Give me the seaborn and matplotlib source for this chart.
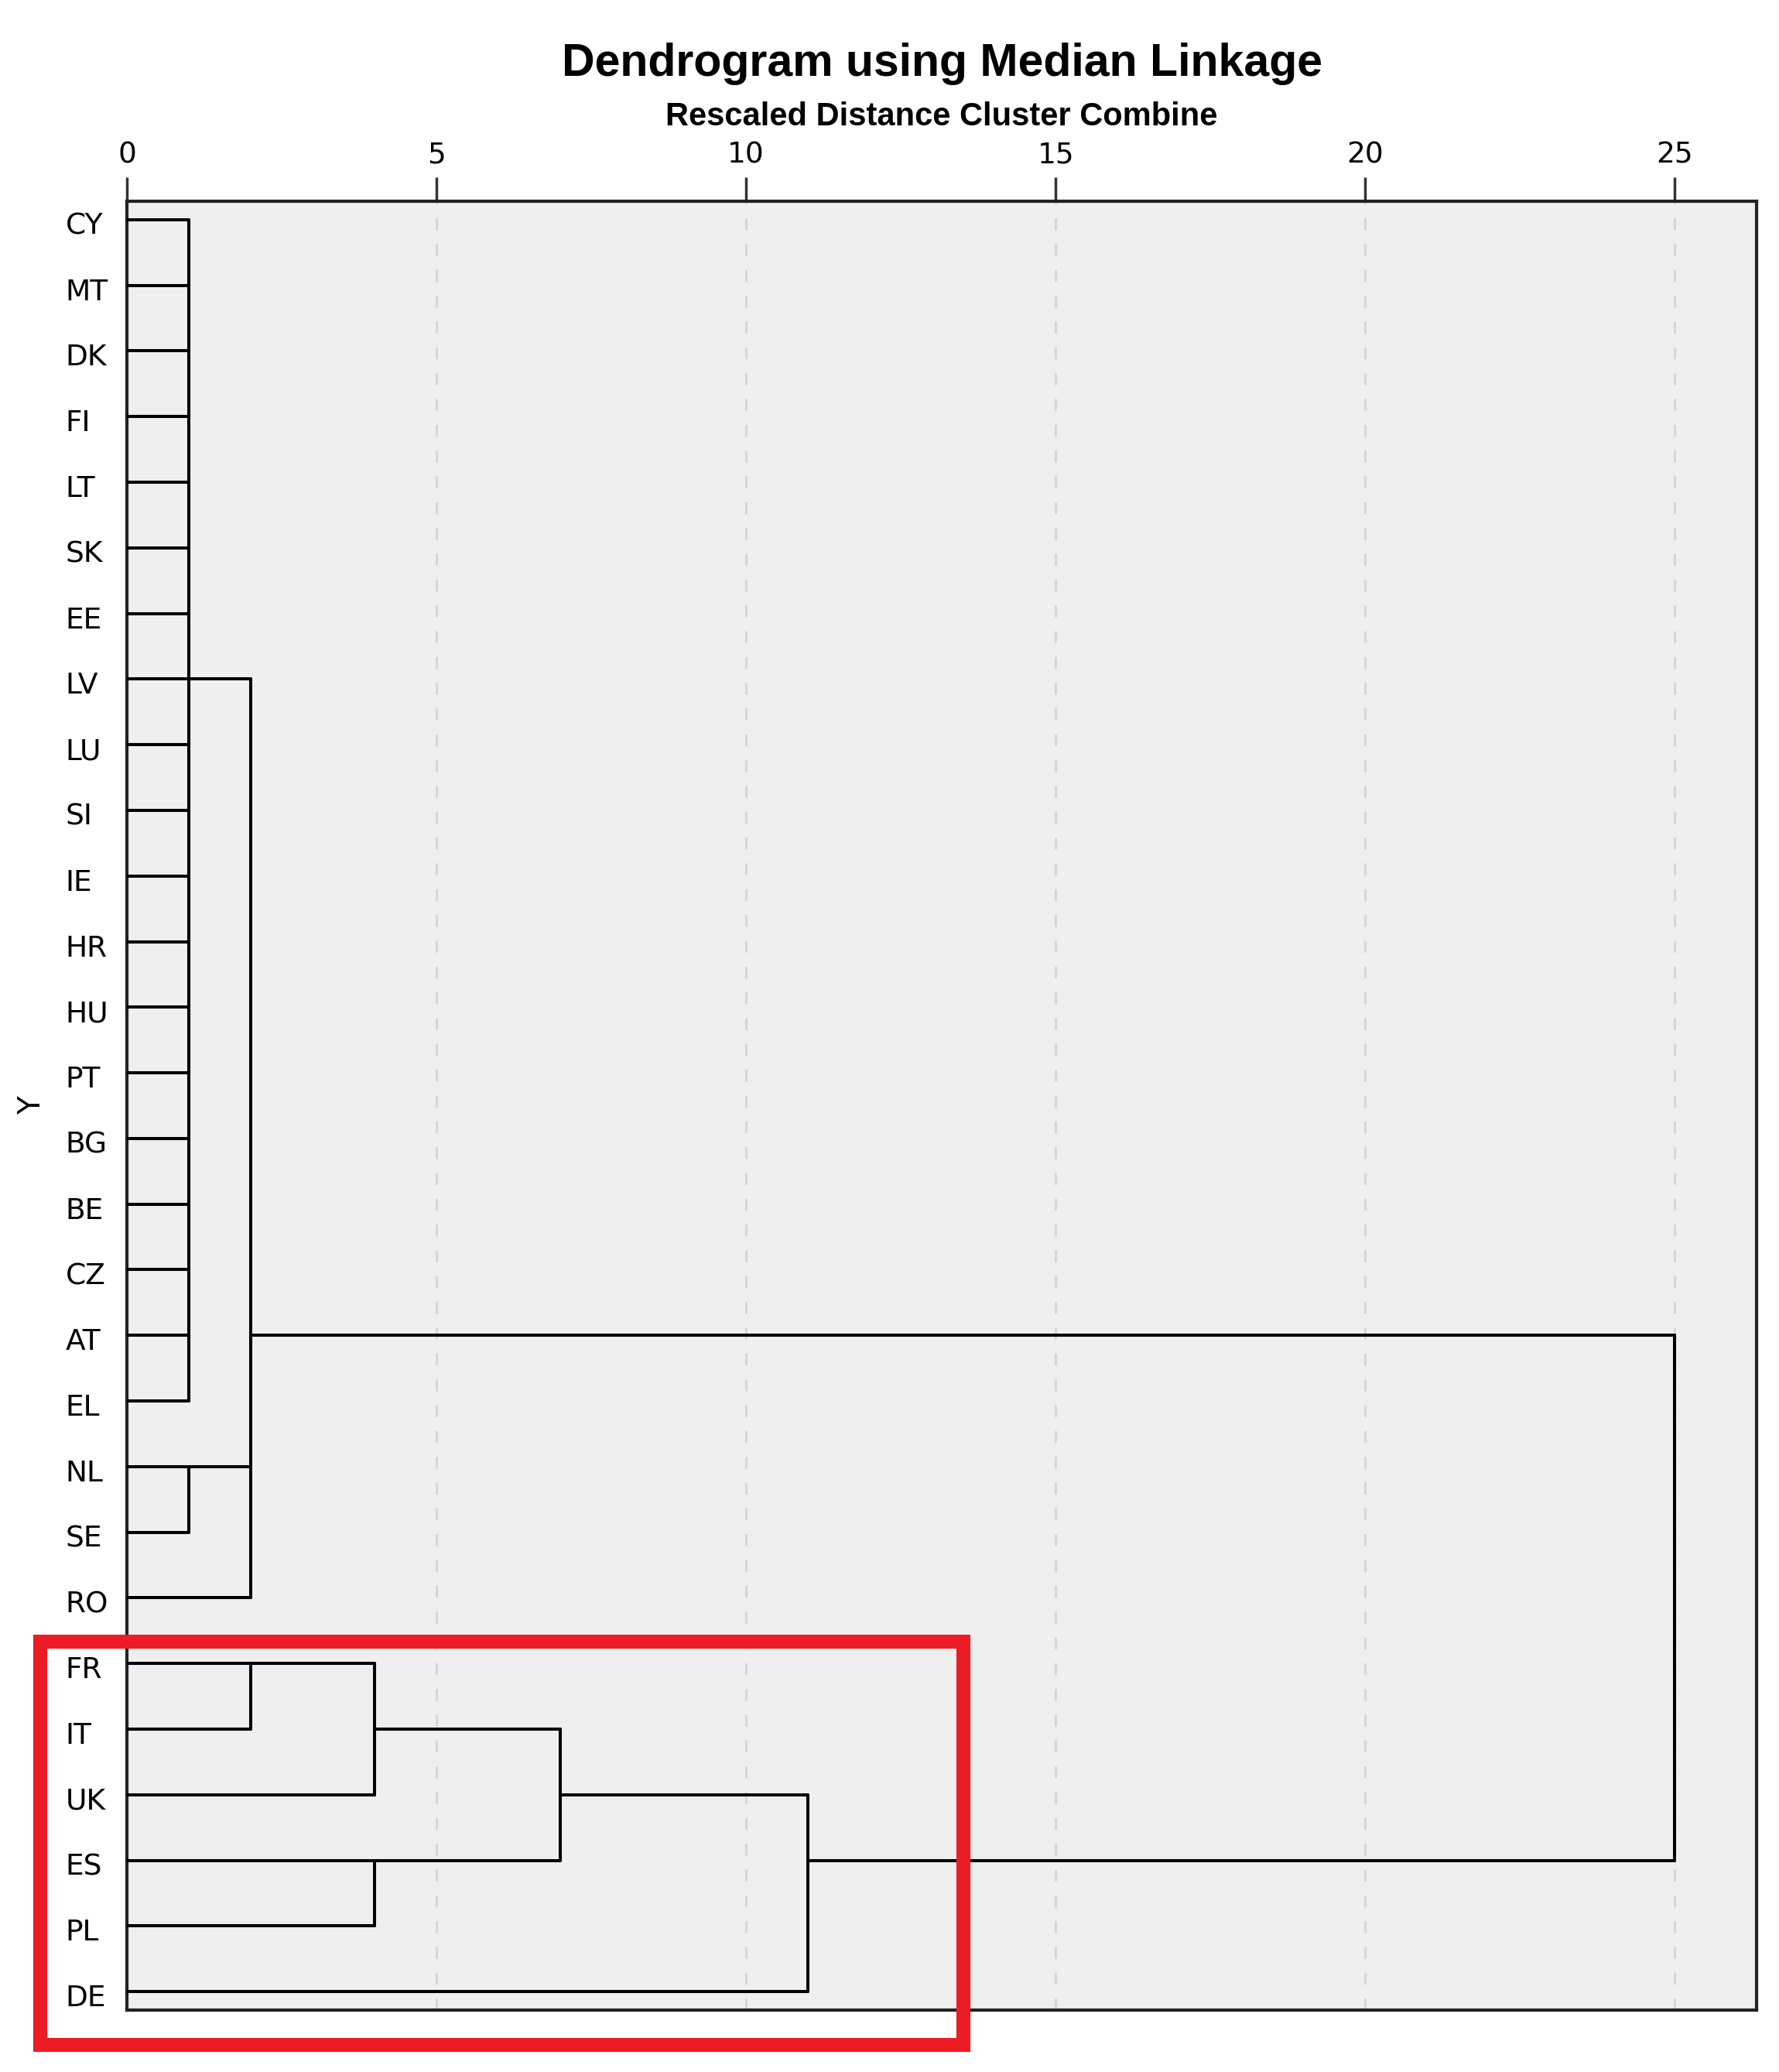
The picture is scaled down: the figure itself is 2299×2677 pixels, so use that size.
import numpy as np
import pandas as pd
import matplotlib
matplotlib.use("Agg")
import matplotlib.pyplot as plt
import matplotlib.transforms as mtransforms
import seaborn as sns
from matplotlib.patches import Rectangle

# --- data: leaves in plotted order (top -> bottom) ---
leaves = ["CY", "MT", "DK", "FI", "LT", "SK", "EE", "LV", "LU", "SI", "IE", "HR",
          "HU", "PT", "BG", "BE", "CZ", "AT", "EL", "NL", "SE", "RO",
          "FR", "IT", "UK", "ES", "PL", "DE"]

# merges: children (leaf names or earlier merge ids), rescaled distance, row the link leaves from
merge_children = [
    ["CY", "MT", "DK", "FI", "LT", "SK", "EE", "LV", "LU", "SI", "IE", "HR",
     "HU", "PT", "BG", "BE", "CZ", "AT", "EL"],   # m0
    ["NL", "SE"],                                 # m1
    ["m0", "m1", "RO"],                           # m2
    ["FR", "IT"],                                 # m3
    ["m3", "UK"],                                 # m4
    ["ES", "PL"],                                 # m5
    ["m4", "m5"],                                 # m6
    ["m6", "DE"],                                 # m7
    ["m2", "m7"],                                 # m8
]
merge_height = [1, 1, 2, 2, 4, 4, 7, 11, 25]
merge_exit = ["LV", "NL", "AT", "FR", "IT", "ES", "UK", "ES", None]

x_ticks = [0, 5, 10, 15, 20, 25]

# --- build segments from the merge table ---
row = {name: i for i, name in enumerate(leaves)}
node_x = {name: 0 for name in leaves}
node_row = dict(row)
segs = []
sid = 0
for i, (kids, h, ex) in enumerate(zip(merge_children, merge_height, merge_exit)):
    rows = []
    for k in kids:
        segs += [(sid, node_x[k], node_row[k]), (sid, h, node_row[k])]
        sid += 1
        rows.append(node_row[k])
    segs += [(sid, h, min(rows)), (sid, h, max(rows))]
    sid += 1
    name = f"m{i}"
    node_x[name] = h
    node_row[name] = row[ex] if ex else None

df = pd.DataFrame(segs, columns=["seg", "dist", "row"])

# --- figure ---
sns.set_style("white")
plt.rcParams["font.family"] = ["DejaVu Sans"]
plt.rcParams["lines.scale_dashes"] = False
plt.rcParams["text.color"] = "black"
plt.rcParams["xtick.color"] = "black"
plt.rcParams["ytick.color"] = "black"
plt.rcParams["axes.labelcolor"] = "black"

fig = plt.figure(figsize=(22.99, 26.77), dpi=100)
ax = fig.add_axes([164 / 2299, 1 - 2597 / 2677, (2270 - 164) / 2299, (2597 - 260) / 2677])
ax.set_facecolor("#efefef")

for xv in x_ticks[1:]:
    ax.axvline(xv, color="#d6d6d6", lw=2.2, dashes=(11, 13), zorder=1)

sns.lineplot(data=df, x="dist", y="row", units="seg", estimator=None, sort=False,
             color="black", lw=2.9, ax=ax, legend=False, zorder=3)

ax.set_xlim(0, 26.32)
ax.set_ylim(len(leaves) - 1 + 0.28, -0.28)

ax.xaxis.tick_top()
ax.set_xticks(x_ticks)
ax.set_xticklabels([str(v) for v in x_ticks])
ax.tick_params(axis="x", length=22, width=2.5, pad=8, labelsize=27, color="#333333")
ax.set_xlabel("")

ax.set_yticks(range(len(leaves)))
ax.set_yticklabels(leaves, ha="left")
ax.tick_params(axis="y", length=0, pad=57, labelsize=27)
shift = mtransforms.ScaledTranslation(0, -5 / 100, fig.dpi_scale_trans)
for lab in ax.get_yticklabels():
    lab.set_transform(lab.get_transform() + shift)
ax.set_ylabel("Y", fontsize=28, labelpad=18)

for side in ["top", "bottom", "left", "right"]:
    ax.spines[side].set_visible(True)
    ax.spines[side].set_color("#222222")
    ax.spines[side].set_linewidth(3)

fig.text(1217 / 2299, 1 - 82 / 2677, "Dendrogram using Median Linkage",
         ha="center", va="center", fontsize=42.5, fontweight="bold", family="Liberation Sans")
fig.text(1217 / 2299, 1 - 151 / 2677, "Rescaled Distance Cluster Combine",
         ha="center", va="center", fontsize=30, fontweight="bold", family="Liberation Sans")

# red highlight box
fig.patches.append(Rectangle((52 / 2299, 1 - 2642 / 2677), (1245 - 52) / 2299, (2642 - 2121) / 2677,
                             transform=fig.transFigure, fill=False, edgecolor="#ed1c24",
                             lw=13, zorder=10))

fig.savefig("out.png", dpi=100)
